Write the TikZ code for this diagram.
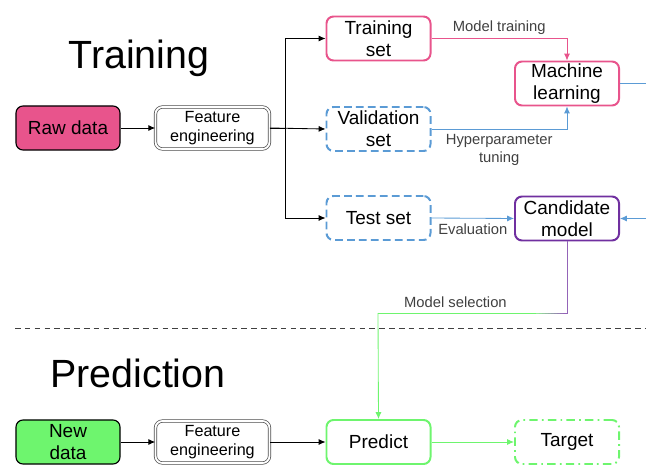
\documentclass[tikz,border=0pt]{standalone}
\usepackage{fontspec}
\setmainfont{Liberation Sans}
\usepackage{xcolor}
\usetikzlibrary{arrows.meta}

\definecolor{mlpink}{RGB}{232,84,140}
\definecolor{mlblue}{RGB}{91,155,213}
\definecolor{mlpurple}{RGB}{112,48,160}
\definecolor{mlgreen}{RGB}{110,245,110}
\definecolor{labgray}{RGB}{64,64,64}

\begin{document}
\begin{tikzpicture}[x=0.025cm,y=-0.025cm,
	box/.style={rounded corners=5pt,minimum width=2.6cm,minimum height=1.1cm,align=center,inner sep=1pt,font=\fontsize{13.5}{15.5}\selectfont},
	fbox/.style={box,draw=black!70,double=white,double distance=1.3pt,line width=0.5pt,minimum width=2.85cm,minimum height=1.05cm,font=\fontsize{11.5}{14}\selectfont},
	conn/.style={line width=0.6pt,-{Latex[length=1.7mm,width=1.5mm]}},
	lab/.style={text=labgray,font=\fontsize{10.5}{13}\selectfont,align=center},
	title/.style={font=\fontsize{28}{32}\selectfont},
	bluedash/.style={dash pattern=on 5.5pt off 3pt}]
	\useasboundingbox (0,0) rectangle (646,466);
	% training part
	\node[title] (ttrain) at (139,58) {Training};
	\node[box,draw=black,fill=mlpink,line width=0.8pt] (raw) at (68,128) {Raw data};
	\node[fbox] (fe) at (212.5,128) {Feature\\engineering};
	\node[box,draw=mlpink,line width=1.4pt] (train) at (378.5,38.5) {Training\\set};
	\node[box,draw=mlblue,line width=1.4pt,bluedash] (valid) at (378.5,129) {Validation\\set};
	\node[box,draw=mlblue,line width=1.4pt,bluedash] (test) at (378.5,218) {Test set};
	\node[box,draw=mlpink,line width=1.4pt] (ml) at (567,83.5) {Machine\\learning};
	\node[box,draw=mlpurple,line width=1.4pt] (cand) at (567,218.5) {Candidate\\model};
	\coordinate (loopout) at (646,83.5);
	\coordinate (loopin) at (646,218.5);
	\coordinate (selr) at (536,313);
	\coordinate (sel) at (378,313);
	\draw[conn] (raw) -- (fe);
	\draw[conn] (fe.east) -- ++(16,0) |- (train.west);
	\draw[conn] (fe.east) -- (valid.west);
	\draw[conn] (fe.east) -- ++(16,0) |- (test.west);
	\draw[conn,mlpink] (train.east) -| node[pos=0.25,above,lab,yshift=-1pt] {Model training} (ml.north);
	\draw[conn,mlblue] (valid.east) -| node[pos=0.25,below,lab] {Hyperparameter\\tuning} (ml.south);
	\draw[conn,mlblue] (test.east) -- node[below,lab] {Evaluation} (cand.west);
	\draw[line width=0.6pt,mlblue] (ml.east) -- (loopout);
	\draw[conn,mlblue] (loopin) -- (cand.east);
	% model selection, purple into green
	\draw[line width=0.7pt,mlpurple!75!white] (cand.south) |- (566,313);
	\foreach \i in {0,...,9}
		\draw[line width=0.7pt,mlgreen!\i0!mlpurple!75!white] (566-3*\i,313) -- (563-3*\i,313);
	\draw[line width=0.7pt,mlgreen] (selr) -- node[pos=0.51,above,lab] {Model selection} (sel);
	% separator
	\coordinate (sepl) at (15,328);
	\coordinate (sepr) at (646,328);
	\draw[line width=0.6pt,black!75,dash pattern=on 4pt off 3pt] (sepl) -- (sepr);
	% prediction part
	\node[title] (tpred) at (138,373) {Prediction};
	\node[box,draw=black,fill=mlgreen,line width=0.8pt] (new) at (68,442) {New\\data};
	\node[fbox] (fe2) at (212.5,442) {Feature\\engineering};
	\node[box,draw=mlgreen,line width=1.4pt] (pred) at (378.5,442) {Predict};
	\node[box,draw=mlgreen,line width=1.4pt,dash pattern=on 6pt off 3pt on 1.2pt off 3pt] (target) at (567,442) {Target};
	\draw[conn] (new) -- (fe2);
	\draw[conn] (fe2) -- (pred);
	\draw[conn,mlgreen] (sel) -- (pred.north);
	\draw[conn,mlgreen] (pred) -- (target);
\end{tikzpicture}
\end{document}
